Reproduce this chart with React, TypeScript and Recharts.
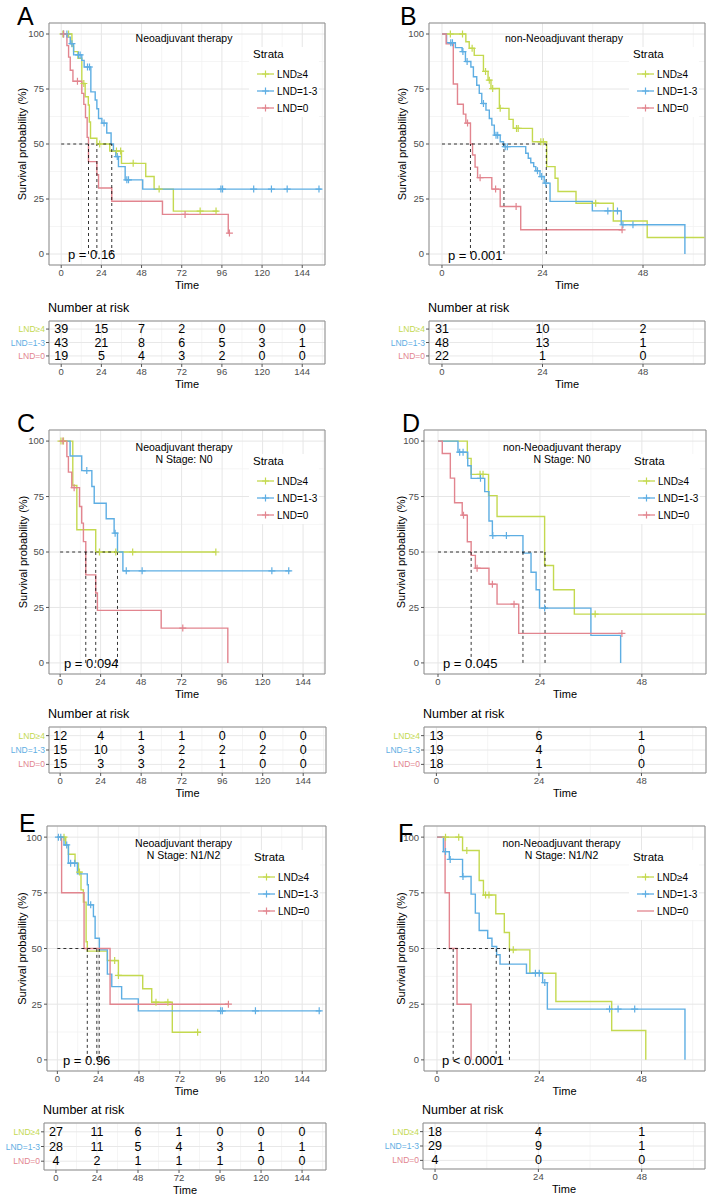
import React from 'react';
import {
  ComposedChart, Line, Scatter, XAxis, YAxis, CartesianGrid,
  ReferenceLine, ReferenceArea, Customized,
} from 'recharts';

const FONT = "'Liberation Sans', Arial, Helvetica, sans-serif";
const GREEN = '#c4d94f';
const BLUE = '#5eaee3';
const RED = '#e2858f';
const STRATA_COLORS = [GREEN, BLUE, RED];
const STRATA = ['LND≥4', 'LND=1-3', 'LND=0'];

const TICKS_LONG = [0, 24, 48, 72, 96, 120, 144];
const MINOR_LONG = [12, 36, 60, 84, 108, 132, 156];
const TICKS_SHORT = [0, 24, 48];
const MINOR_SHORT = [12, 36, 60];
const Y_TICKS = [0, 25, 50, 75, 100];
const Y_MINOR = [12.5, 37.5, 62.5, 87.5];

// ---------- Panel A: Neoadjuvant therapy ----------
const A_LND4 = [[0, 100], [6.4, 94.5], [7.4, 92], [10, 89], [12.3, 77.5], [14.3, 71.5], [16.2, 67.7], [16.8, 60], [17.5, 52.6], [21.3, 50], [29, 46.8], [36, 41.2], [50.5, 35.2], [55.5, 29.5], [67, 19.5], [93.5, 19.5]];
const A_LND13 = [[0, 100], [4, 98.6], [5.4, 95.6], [7.4, 90.5], [12.3, 88], [13.7, 85], [17.7, 73.7], [20.3, 70], [21.3, 66], [22.3, 61.6], [24.3, 59.5], [27.2, 55], [29.8, 50], [31.2, 47], [32.6, 44.3], [34.2, 39.7], [38.2, 33.7], [48.7, 29.5], [155.5, 29.5]];
const A_LND0 = [[0, 100], [3.4, 94.7], [4.4, 89.5], [5.4, 83.5], [7, 78.5], [12.3, 73], [13.5, 68], [14.5, 62], [15.5, 53], [16.3, 42], [21.3, 36], [22.3, 30], [30.2, 24], [60.5, 18], [99.8, 9.5], [100.5, 9.5]];
const A_CENS_LND4 = [1, 4.4, 13.5, 23, 33, 35.5, 43, 58.5, 83, 92.5];
const A_CENS_LND13 = [1.4, 3.4, 6.4, 10.3, 11.3, 15.7, 16.9, 25.6, 33.5, 39.2, 40.2, 95.4, 96.4, 115, 125.6, 135, 154];
const A_CENS_LND0 = [1.4, 9.7, 74, 100.5];
const A_MEDIANS = [21.3, 30.2, 16.3];
const A_RISK_LND4 = [39, 15, 7, 2, 0, 0, 0];
const A_RISK_LND13 = [43, 21, 8, 6, 5, 3, 1];
const A_RISK_LND0 = [19, 5, 4, 3, 2, 0, 0];

// ---------- Panel B: non-Neoadjuvant therapy ----------
const B_LND4 = [[0, 100], [5.7, 96.5], [6.5, 93.5], [7.7, 90.3], [9.9, 83], [11, 79], [11.7, 75.2], [13.7, 66.2], [16, 61.2], [17, 57.1], [21.6, 51], [25, 39.7], [27, 34.4], [27.7, 28.4], [32, 23.1], [40.9, 15], [49, 7.5], [62.7, 7.5]];
const B_LND13 = [[0, 100], [1.1, 96], [3.2, 93.8], [4.8, 92], [5.6, 87.5], [6.9, 85], [7.5, 80.6], [8.3, 76.7], [8.9, 73], [9.5, 68.4], [10.5, 65.4], [11.3, 61.6], [11.9, 58.6], [12.5, 54], [13.9, 51], [14.7, 48.8], [20, 45.8], [20.6, 43.5], [21.2, 41.5], [21.9, 39.7], [22.4, 37.8], [23.4, 35.2], [24.4, 32.2], [25.8, 23.9], [35.9, 19.6], [42.8, 13.3], [58, 0]];
const B_LND0 = [[0, 100], [1, 95.5], [2.7, 77.3], [3.7, 68.1], [5.1, 63.6], [5.7, 59.5], [6.8, 50], [7.3, 45], [7.9, 39.5], [8.5, 34.7], [11.9, 29.5], [13.9, 21.6], [18.8, 11], [43, 11]];
const B_CENS_LND4 = [2, 4.9, 7.2, 10.4, 11.3, 12.1, 13.9, 17.8, 18.2, 23.6, 24.2, 36.7];
const B_CENS_LND13 = [2.1, 2.5, 5, 6, 9.9, 12.9, 13.3, 15.1, 15.6, 22.8, 23.8, 24.8, 39.6, 41.9, 43.2, 45.6];
const B_CENS_LND0 = [6.1, 9.1, 12.8, 17.7, 43];
const B_MEDIANS = [24.9, 14.8, 6.8];
const B_RISK_LND4 = [31, 10, 2];
const B_RISK_LND13 = [48, 13, 1];
const B_RISK_LND0 = [22, 1, 0];

// ---------- Panel C: Neoadjuvant therapy, N0 ----------
const C_LND4 = [[0, 100], [7.5, 80], [9.9, 60], [21.1, 50], [92.3, 50]];
const C_LND13 = [[0, 100], [5.9, 93.3], [12.8, 86.7], [18.8, 79.5], [20.2, 72], [27.3, 65], [32, 58.5], [34, 50], [37.2, 41.5], [136.5, 41.5]];
const C_LND0 = [[0, 100], [4, 93], [4.9, 86], [6.9, 79], [11.5, 70.5], [12.8, 63], [13.8, 54.7], [15.2, 39.7], [21.1, 31.5], [22.1, 23.7], [59.9, 15.7], [99.4, 0]];
const C_CENS_LND4 = [0.5, 2, 23.3, 33, 43, 92.3];
const C_CENS_LND13 = [15.8, 32.6, 39.2, 48.6, 125.5, 135.5];
const C_CENS_LND0 = [1.6, 8.3, 72.7];
const C_MEDIANS = [21.1, 34, 15.2];
const C_RISK_LND4 = [12, 4, 1, 1, 0, 0, 0];
const C_RISK_LND13 = [15, 10, 3, 2, 2, 2, 0];
const C_RISK_LND0 = [15, 3, 3, 2, 1, 0, 0];

// ---------- Panel D: non-Neoadjuvant therapy, N0 ----------
const D_LND4 = [[0, 100], [6.9, 92.2], [7.8, 85], [11.9, 75.4], [13.9, 66], [25.1, 43.9], [27.2, 33], [32.1, 22], [63.1, 22]];
const D_LND13 = [[0, 100], [4.7, 95], [7, 88.9], [7.8, 83.2], [11, 77.2], [12, 64], [12.8, 57.4], [20, 49.5], [21.9, 40.9], [23.1, 33], [23.9, 24.7], [36, 12.4], [43, 0]];
const D_LND0 = [[0, 100], [1, 94.4], [2.9, 83.3], [3.9, 72.2], [5.7, 66.6], [6.9, 54.6], [7.8, 48.5], [8.8, 42.7], [12, 35.5], [13.9, 26.5], [19, 13.3], [43.3, 13.3]];
const D_CENS_LND4 = [9.9, 10.6, 37];
const D_CENS_LND13 = [5.1, 5.9, 10, 12.9, 16.1, 25.1];
const D_CENS_LND0 = [6, 9.2, 12.8, 17.9, 43.3];
const D_MEDIANS = [25.2, 20, 7.8];
const D_RISK_LND4 = [13, 6, 1];
const D_RISK_LND13 = [19, 4, 0];
const D_RISK_LND0 = [18, 1, 0];

// ---------- Panel E: Neoadjuvant therapy, N1/N2 ----------
const E_LND4 = [[0, 100], [4.9, 96.3], [6.5, 92.3], [10.4, 88.3], [12.4, 84.3], [13.9, 76.3], [15.3, 70.8], [16.9, 53], [17.6, 48.8], [29.4, 44.6], [35.9, 37.9], [50.2, 31.9], [55.5, 25.9], [67.6, 12.4], [84.5, 12.4]];
const E_LND13 = [[0, 100], [3.9, 96.5], [6.5, 88.3], [11.8, 83.5], [17.6, 78.6], [18.2, 69.6], [21.2, 64.4], [22.2, 54.6], [24.7, 49.4], [29.4, 38.5], [32, 32.9], [37.8, 27.4], [47.6, 22], [155, 22]];
const E_LND0 = [[0, 100], [2.5, 75], [15.7, 50], [31, 25], [100.6, 25]];
const E_CENS_LND4 = [3.9, 13, 33.7, 35.9, 58, 65, 82.5];
const E_CENS_LND13 = [0.6, 2, 5.5, 7.8, 10.2, 19.6, 96, 97, 116.5, 154];
const E_CENS_LND0 = [100.6];
const E_MEDIANS = [17.6, 24.6, 23.2];
const E_RISK_LND4 = [27, 11, 6, 1, 0, 0, 0];
const E_RISK_LND13 = [28, 11, 5, 4, 3, 1, 1];
const E_RISK_LND0 = [4, 2, 1, 1, 1, 0, 0];

// ---------- Panel F: non-Neoadjuvant therapy, N1/N2 ----------
const F_LND4 = [[0, 100], [6, 94], [9.9, 80.5], [10.9, 74], [13.8, 65.6], [15.8, 57.2], [17, 49.4], [21.8, 38.9], [27.9, 26.2], [41, 13.2], [49, 0]];
const F_LND13 = [[0, 100], [1.5, 93.5], [2.9, 90], [6, 82.3], [8, 74.4], [9, 65.9], [9.9, 58.1], [11.9, 54.6], [12.9, 50.9], [14, 47.2], [14.8, 43], [21, 38.9], [24.8, 34.7], [25.9, 22.8], [58.2, 0]];
const F_LND0 = [[0, 100], [1.9, 75], [2.9, 50], [4.7, 25], [8, 0]];
const F_CENS_LND4 = [2, 5.1, 7, 11.4, 12.2, 17.9];
const F_CENS_LND13 = [2, 3.1, 6.1, 23.1, 24, 25.3, 40.5, 42.5, 46.4];
const F_CENS_LND0: number[] = [];
const F_MEDIANS = [17, 13.9, 3.8];
const F_RISK_LND4 = [18, 4, 1];
const F_RISK_LND13 = [29, 9, 1];
const F_RISK_LND0 = [4, 0, 0];

type Rect = { x0: number; x1: number; y0: number; y1: number };

function stepValue(curve: number[][], t: number) {
  let s = curve[0][1];
  for (const [ct, cs] of curve) {
    if (ct <= t) s = cs;
    else break;
  }
  return s;
}

const plusShape = (color: string) => (props: any) => {
  const { cx, cy } = props;
  if (cx == null || cy == null) return <g />;
  return (
    <path d={`M${cx - 3.5},${cy}h7M${cx},${cy - 3.5}v7`} stroke={color} strokeWidth={1.2} fill="none" />
  );
};

type KMProps = {
  svgLeft: number; svgTop: number; svgW: number; svgH: number;
  plot: Rect; xDomain: [number, number]; xTicks: number[]; xMinor: number[];
  curves: number[][][]; censors: number[][]; medians: number[];
  title: string[]; pText: string; pX: number; pBase: number;
  letter: string; letterX: number; letterBase: number; yLabelX: number;
};

function KMPanel(p: KMProps) {
  const YW = 30;
  const XH = 16;
  const margin = {
    left: p.plot.x0 - p.svgLeft - YW,
    top: p.plot.y0 - p.svgTop,
    right: p.svgLeft + p.svgW - p.plot.x1,
    bottom: p.svgTop + p.svgH - p.plot.y1 - XH,
  };
  const lx = (x: number) => x - p.svgLeft;
  const ly = (y: number) => y - p.svgTop;
  const maxMed = Math.max(...p.medians);
  const cx = lx((p.plot.x0 + p.plot.x1) / 2);
  const cy = ly((p.plot.y0 + p.plot.y1) / 2);
  const legX = lx(p.plot.x1 - 72);
  const top = ly(p.plot.y0);
  const itemY = [top + 51, top + 68, top + 85];

  const overlay = () => (
    <g fontFamily={FONT}>
      <rect x={legX - 4} y={top + 24} width={70} height={70} fill="#ffffff" />
      <text x={legX} y={top + 35} fontSize={11.5} fill="#000">Strata</text>
      {STRATA.map((s, i) => (
        <g key={s}>
          <line x1={legX + 4} x2={legX + 21} y1={itemY[i]} y2={itemY[i]} stroke={STRATA_COLORS[i]} strokeWidth={1.3} />
          {p.censors[i].length > 0 && (
            <path d={`M${legX + 9},${itemY[i]}h7M${legX + 12.5},${itemY[i] - 3.5}v7`} stroke={STRATA_COLORS[i]} strokeWidth={1.2} />
          )}
          <text x={legX + 24} y={itemY[i]} fontSize={10} dominantBaseline="central" fill="#000">{s}</text>
        </g>
      ))}
      {p.title.map((t, i) => (
        <text key={t} x={cx - 3} y={top + (p.title.length === 1 ? 19 : 20.5 + i * 12)} textAnchor="middle" fontSize={10.5} fill="#000">{t}</text>
      ))}
      <text x={lx(p.pX)} y={ly(p.pBase)} fontSize={13} fill="#000">{p.pText}</text>
      <text x={lx(p.yLabelX)} y={cy} transform={`rotate(-90 ${lx(p.yLabelX)} ${cy})`} textAnchor="middle" dominantBaseline="central" fontSize={11} fill="#000">Survival probability (%)</text>
      <text x={cx} y={ly(p.plot.y1) + 24} textAnchor="middle" fontSize={11} fill="#000">Time</text>
      <text x={lx(p.letterX)} y={ly(p.letterBase)} fontSize={25} fill="#000">{p.letter}</text>
    </g>
  );

  return (
    <div style={{ position: 'absolute', left: p.svgLeft, top: p.svgTop, width: p.svgW, height: p.svgH }}>
      <ComposedChart width={p.svgW} height={p.svgH} margin={margin}>
        <CartesianGrid stroke="#f3f3f3" strokeWidth={0.8} horizontalValues={Y_MINOR} verticalValues={p.xMinor} />
        <CartesianGrid stroke="#e6e6e6" strokeWidth={1} />
        <XAxis
          type="number" dataKey="t" domain={p.xDomain} ticks={p.xTicks} allowDataOverflow interval={0}
          height={XH} tickSize={3} tickMargin={1} axisLine={false}
          tickLine={{ stroke: '#555' }}
          tick={{ fontSize: 9.5, fill: '#4d4d4d', fontFamily: FONT }}
        />
        <YAxis
          type="number" dataKey="s" domain={[-5, 105]} ticks={Y_TICKS} allowDataOverflow interval={0}
          width={YW} tickSize={3} tickMargin={2} axisLine={false}
          tickLine={{ stroke: '#555' }}
          tick={{ fontSize: 9.5, fill: '#4d4d4d', fontFamily: FONT }}
        />
        <ReferenceArea x1={p.xDomain[0]} x2={p.xDomain[1]} y1={-5} y2={105} fill="none" stroke="#8f8f8f" strokeWidth={1} ifOverflow="visible" />
        <Customized component={overlay} />
        {p.curves.map((c, i) => (
          <Line
            key={'l' + i}
            data={c.map(([t, s]) => ({ t, s }))}
            dataKey="s" type="stepAfter" stroke={STRATA_COLORS[i]} strokeWidth={1.4}
            dot={false} activeDot={false} isAnimationActive={false}
          />
        ))}
        {p.censors.map((cs, i) => (
          <Scatter
            key={'c' + i}
            data={cs.map((t) => ({ t, s: stepValue(p.curves[i], t) }))}
            dataKey="s" shape={plusShape(STRATA_COLORS[i])} isAnimationActive={false}
          />
        ))}
        <ReferenceLine segment={[{ x: 0, y: 50 }, { x: maxMed, y: 50 }]} stroke="#000" strokeDasharray="3 3" strokeWidth={0.8} ifOverflow="visible" />
        {p.medians.map((m, i) => (
          <ReferenceLine key={'m' + i} segment={[{ x: m, y: 0 }, { x: m, y: 50 }]} stroke="#000" strokeDasharray="3 3" strokeWidth={0.8} ifOverflow="visible" />
        ))}
      </ComposedChart>
    </div>
  );
}

type RiskProps = {
  svgLeft: number; svgTop: number; svgW: number; svgH: number;
  box: Rect; xDomain: [number, number]; xTicks: number[]; xMinor: number[];
  rows: number[][];
};

const RISK_ROW_Y = [3, 2, 1];

function RiskTable(p: RiskProps) {
  const YW = 40;
  const XH = 16;
  const margin = {
    left: p.box.x0 - p.svgLeft - YW,
    top: p.box.y0 - p.svgTop,
    right: p.svgLeft + p.svgW - p.box.x1,
    bottom: p.svgTop + p.svgH - p.box.y1 - XH,
  };
  const lx = (x: number) => x - p.svgLeft;
  const ly = (y: number) => y - p.svgTop;
  const points = p.rows.flatMap((row, i) =>
    row.map((n, j) => ({ t: p.xTicks[j], s: RISK_ROW_Y[i], n, row: i }))
  );
  const numShape = (props: any) => {
    const { cx, cy, payload } = props;
    if (cx == null || cy == null) return <g />;
    return (
      <text x={cx} y={cy} textAnchor="middle" dominantBaseline="central" fontSize={12.5} fontFamily={FONT} fill="#000">
        {payload.n}
      </text>
    );
  };
  const rowTick = (props: any) => {
    const { x, y, payload } = props;
    const idx = RISK_ROW_Y.indexOf(payload.value);
    return (
      <text x={x} y={y} textAnchor="end" dominantBaseline="central" fontSize={8.5} fontFamily={FONT} fill={STRATA_COLORS[idx]}>
        {STRATA[idx]}
      </text>
    );
  };
  const overlay = () => (
    <g fontFamily={FONT}>
      <text x={lx(p.box.x0) - 1} y={ly(p.box.y0) - 9} fontSize={12.5} fill="#000">Number at risk</text>
      <text x={lx((p.box.x0 + p.box.x1) / 2)} y={ly(p.box.y1) + 24} textAnchor="middle" fontSize={11} fill="#000">Time</text>
    </g>
  );
  return (
    <div style={{ position: 'absolute', left: p.svgLeft, top: p.svgTop, width: p.svgW, height: p.svgH }}>
      <ComposedChart width={p.svgW} height={p.svgH} margin={margin}>
        <CartesianGrid stroke="#f3f3f3" strokeWidth={0.8} horizontal={false} verticalValues={p.xMinor} />
        <CartesianGrid stroke="#e8e8e8" strokeWidth={1} />
        <XAxis
          type="number" dataKey="t" domain={p.xDomain} ticks={p.xTicks} allowDataOverflow interval={0}
          height={XH} tickSize={3} tickMargin={1} axisLine={false}
          tickLine={{ stroke: '#555' }}
          tick={{ fontSize: 9.5, fill: '#4d4d4d', fontFamily: FONT }}
        />
        <YAxis
          type="number" dataKey="s" domain={[0.4, 3.6]} ticks={[1, 2, 3]} allowDataOverflow interval={0}
          width={YW} tickSize={3} tickMargin={1} axisLine={false}
          tickLine={{ stroke: '#555' }}
          tick={rowTick}
        />
        <ReferenceArea x1={p.xDomain[0]} x2={p.xDomain[1]} y1={0.4} y2={3.6} fill="none" stroke="#8f8f8f" strokeWidth={1} ifOverflow="visible" />
        <Scatter data={points} dataKey="s" shape={numShape} isAnimationActive={false} />
        <Customized component={overlay} />
      </ComposedChart>
    </div>
  );
}

export default function App() {
  return (
    <div style={{ position: 'absolute', left: 0, top: 0, width: 712, height: 1199, background: '#ffffff', overflow: 'hidden' }}>
      {/* A */}
      <KMPanel
        svgLeft={0} svgTop={0} svgW={356} svgH={295}
        plot={{ x0: 49, x1: 325, y0: 23, y1: 265 }} xDomain={[-7.3, 157.6]} xTicks={TICKS_LONG} xMinor={MINOR_LONG}
        curves={[A_LND4, A_LND13, A_LND0]} censors={[A_CENS_LND4, A_CENS_LND13, A_CENS_LND0]} medians={A_MEDIANS}
        title={['Neoadjuvant therapy']} pText="p = 0.16" pX={68} pBase={259}
        letter="A" letterX={17} letterBase={25} yLabelX={22}
      />
      <RiskTable
        svgLeft={0} svgTop={295} svgW={356} svgH={100}
        box={{ x0: 49, x1: 325, y0: 321, y1: 364 }} xDomain={[-7.3, 157.6]} xTicks={TICKS_LONG} xMinor={MINOR_LONG}
        rows={[A_RISK_LND4, A_RISK_LND13, A_RISK_LND0]}
      />
      {/* B */}
      <KMPanel
        svgLeft={356} svgTop={0} svgW={356} svgH={295}
        plot={{ x0: 429, x1: 705, y0: 23, y1: 265 }} xDomain={[-3.1, 62.8]} xTicks={TICKS_SHORT} xMinor={MINOR_SHORT}
        curves={[B_LND4, B_LND13, B_LND0]} censors={[B_CENS_LND4, B_CENS_LND13, B_CENS_LND0]} medians={B_MEDIANS}
        title={['non-Neoadjuvant therapy']} pText="p = 0.001" pX={448} pBase={260}
        letter="B" letterX={400} letterBase={25} yLabelX={402}
      />
      <RiskTable
        svgLeft={356} svgTop={295} svgW={356} svgH={100}
        box={{ x0: 429, x1: 705, y0: 321, y1: 364 }} xDomain={[-3.1, 62.8]} xTicks={TICKS_SHORT} xMinor={MINOR_SHORT}
        rows={[B_RISK_LND4, B_RISK_LND13, B_RISK_LND0]}
      />
      {/* C */}
      <KMPanel
        svgLeft={0} svgTop={400} svgW={356} svgH={300}
        plot={{ x0: 49, x1: 325, y0: 430, y1: 674 }} xDomain={[-6.6, 157]} xTicks={TICKS_LONG} xMinor={MINOR_LONG}
        curves={[C_LND4, C_LND13, C_LND0]} censors={[C_CENS_LND4, C_CENS_LND13, C_CENS_LND0]} medians={C_MEDIANS}
        title={['Neoadjuvant therapy', 'N Stage: N0']} pText="p = 0.094" pX={64} pBase={668}
        letter="C" letterX={17} letterBase={432} yLabelX={23}
      />
      <RiskTable
        svgLeft={0} svgTop={700} svgW={356} svgH={100}
        box={{ x0: 49, x1: 326, y0: 727, y1: 773 }} xDomain={[-6.6, 157.5]} xTicks={TICKS_LONG} xMinor={MINOR_LONG}
        rows={[C_RISK_LND4, C_RISK_LND13, C_RISK_LND0]}
      />
      {/* D */}
      <KMPanel
        svgLeft={356} svgTop={400} svgW={356} svgH={300}
        plot={{ x0: 424, x1: 706, y0: 430, y1: 674 }} xDomain={[-3.3, 63.1]} xTicks={TICKS_SHORT} xMinor={MINOR_SHORT}
        curves={[D_LND4, D_LND13, D_LND0]} censors={[D_CENS_LND4, D_CENS_LND13, D_CENS_LND0]} medians={D_MEDIANS}
        title={['non-Neoadjuvant therapy', 'N Stage: N0']} pText="p = 0.045" pX={443} pBase={668}
        letter="D" letterX={402} letterBase={432} yLabelX={401}
      />
      <RiskTable
        svgLeft={356} svgTop={700} svgW={356} svgH={100}
        box={{ x0: 424, x1: 706, y0: 727, y1: 773 }} xDomain={[-2.9, 63.1]} xTicks={TICKS_SHORT} xMinor={MINOR_SHORT}
        rows={[D_RISK_LND4, D_RISK_LND13, D_RISK_LND0]}
      />
      {/* E */}
      <KMPanel
        svgLeft={0} svgTop={800} svgW={356} svgH={297}
        plot={{ x0: 47, x1: 326, y0: 826, y1: 1071 }} xDomain={[-6.1, 158]} xTicks={TICKS_LONG} xMinor={MINOR_LONG}
        curves={[E_LND4, E_LND13, E_LND0]} censors={[E_CENS_LND4, E_CENS_LND13, E_CENS_LND0]} medians={E_MEDIANS}
        title={['Neoadjuvant therapy', 'N Stage: N1/N2']} pText="p = 0.96" pX={63} pBase={1065}
        letter="E" letterX={19} letterBase={832} yLabelX={22}
      />
      <RiskTable
        svgLeft={0} svgTop={1097} svgW={356} svgH={102}
        box={{ x0: 44, x1: 326, y0: 1123, y1: 1170 }} xDomain={[-7, 158]} xTicks={TICKS_LONG} xMinor={MINOR_LONG}
        rows={[E_RISK_LND4, E_RISK_LND13, E_RISK_LND0]}
      />
      {/* F */}
      <KMPanel
        svgLeft={356} svgTop={800} svgW={356} svgH={297}
        plot={{ x0: 424, x1: 705, y0: 826, y1: 1071 }} xDomain={[-3.05, 62.9]} xTicks={TICKS_SHORT} xMinor={MINOR_SHORT}
        curves={[F_LND4, F_LND13, F_LND0]} censors={[F_CENS_LND4, F_CENS_LND13, F_CENS_LND0]} medians={F_MEDIANS}
        title={['non-Neoadjuvant therapy', 'N Stage: N1/N2']} pText="p < 0.0001" pX={442} pBase={1065}
        letter="F" letterX={398} letterBase={842} yLabelX={401}
      />
      <RiskTable
        svgLeft={356} svgTop={1097} svgW={356} svgH={102}
        box={{ x0: 423, x1: 705, y0: 1123, y1: 1169 }} xDomain={[-2.8, 62.7]} xTicks={TICKS_SHORT} xMinor={MINOR_SHORT}
        rows={[F_RISK_LND4, F_RISK_LND13, F_RISK_LND0]}
      />
    </div>
  );
}
